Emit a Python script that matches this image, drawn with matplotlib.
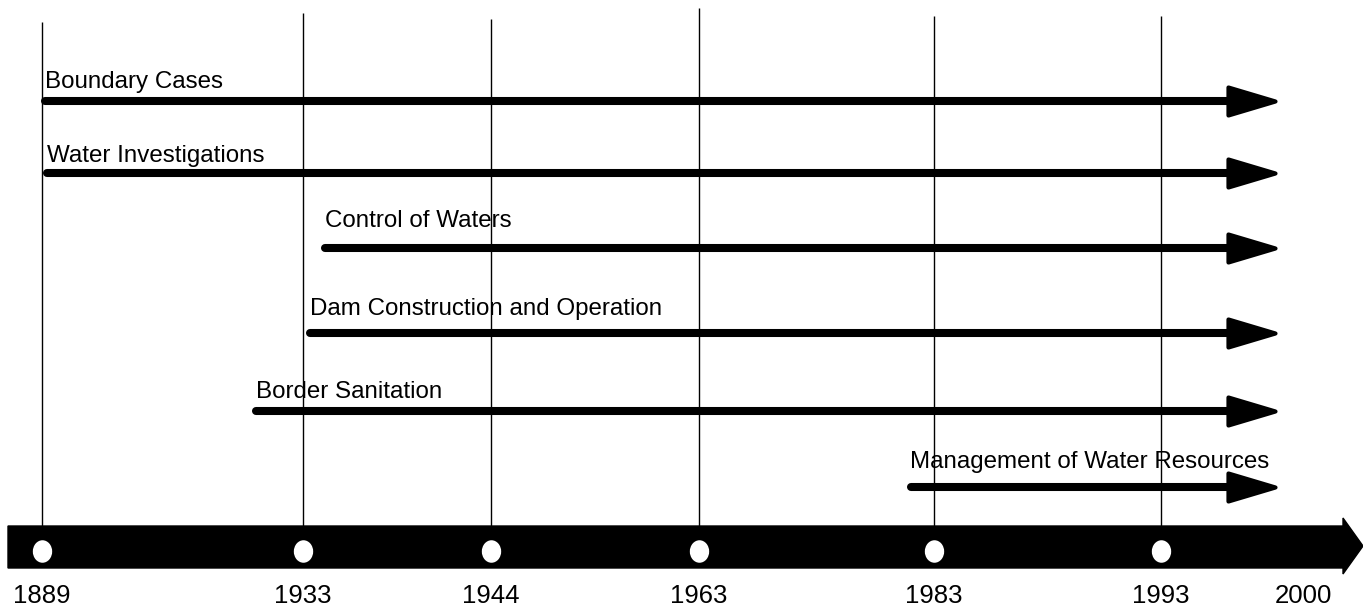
import numpy as np
import matplotlib
matplotlib.use("Agg")
import matplotlib.pyplot as plt
from matplotlib.path import Path
from matplotlib.markers import MarkerStyle
from matplotlib.transforms import Affine2D, blended_transform_factory

plt.rcParams["font.family"] = ["Liberation Sans", "DejaVu Sans"]

# timeline data
years = [1889, 1933, 1944, 1963, 1983, 1993, 2000]
activities = ["Boundary Cases", "Water Investigations", "Control of Waters",
              "Dam Construction and Operation", "Border Sanitation",
              "Management of Water Resources"]
start_year = [1889.5, 1889.8, 1934.3, 1933.4, 1925.1, 1981.0]
end_year = [1998.6, 1998.6, 1998.6, 1998.6, 1998.6, 1998.6]

# schematic (non-linear) placement of years across the 1363 px width
anchor_years = [1882, 1889, 1933, 1944, 1963, 1983, 1993, 2000, 2003.2]
anchor_px = [0, 42, 303, 491, 699, 934, 1161, 1303, 1363]
W, H = 1363, 608

row_y = [101, 173, 248, 333, 411, 487]
label_dy = [13, 11, 21, 18, 13, 19]
line_top = [22, 13, 19, 8, 16, 16]
bar_top, bar_bot, dot_y, year_y = 526, 568, 551, 596


def fwd(x):
    return np.interp(x, anchor_years, anchor_px)


def inv(p):
    return np.interp(p, anchor_px, anchor_years)


fig = plt.figure(figsize=(W / 100, H / 100), dpi=100)
ax = fig.add_axes([0, 0, 1, 1])
ax.set_xscale("function", functions=(fwd, inv))
ax.set_xlim(anchor_years[0], anchor_years[-1])
ax.set_ylim(H, 0)
ax.axis("off")

# vertical guide lines
ax.vlines(years[:-1], line_top, bar_top, color="black", lw=1.0, zorder=1)

# activity arrows
head = MarkerStyle(Path([(-47, -14), (0, 0), (-47, 14), (-47, -14)], closed=True),
                   joinstyle="round")
for name, s, e, y, dy in zip(activities, start_year, end_year, row_y, label_dy):
    ax.plot([s, e - 2.0], [y, y], color="black", lw=5.8, solid_capstyle="round", zorder=2)
    ax.plot([e], [y], linestyle="none", marker=head, ms=67.7, mfc="black",
            mec="black", mew=3, zorder=3)
    ax.text(s, y - dy, name, fontsize=17.4, ha="left", va="baseline", zorder=4)

# main time axis arrow
tr = blended_transform_factory(ax.transAxes, ax.transData)
bx = np.array([8, 1343, 1343, 1363, 1343, 1343, 8]) / W
by = [bar_top, bar_top, 518, 546, 574, bar_bot, bar_bot]
ax.fill(bx, by, color="black", transform=tr, zorder=2)

dot = MarkerStyle(Path.unit_circle().transformed(Affine2D().scale(0.86, 1.0)))
ax.plot(years[:-1], [dot_y] * (len(years) - 1), linestyle="none", marker=dot,
        ms=16.2, mfc="white", mec="none", zorder=3)

for yr in years:
    ax.text(yr, year_y, str(yr), fontsize=18.5, ha="center", va="center")

fig.savefig("out.png", dpi=100)
